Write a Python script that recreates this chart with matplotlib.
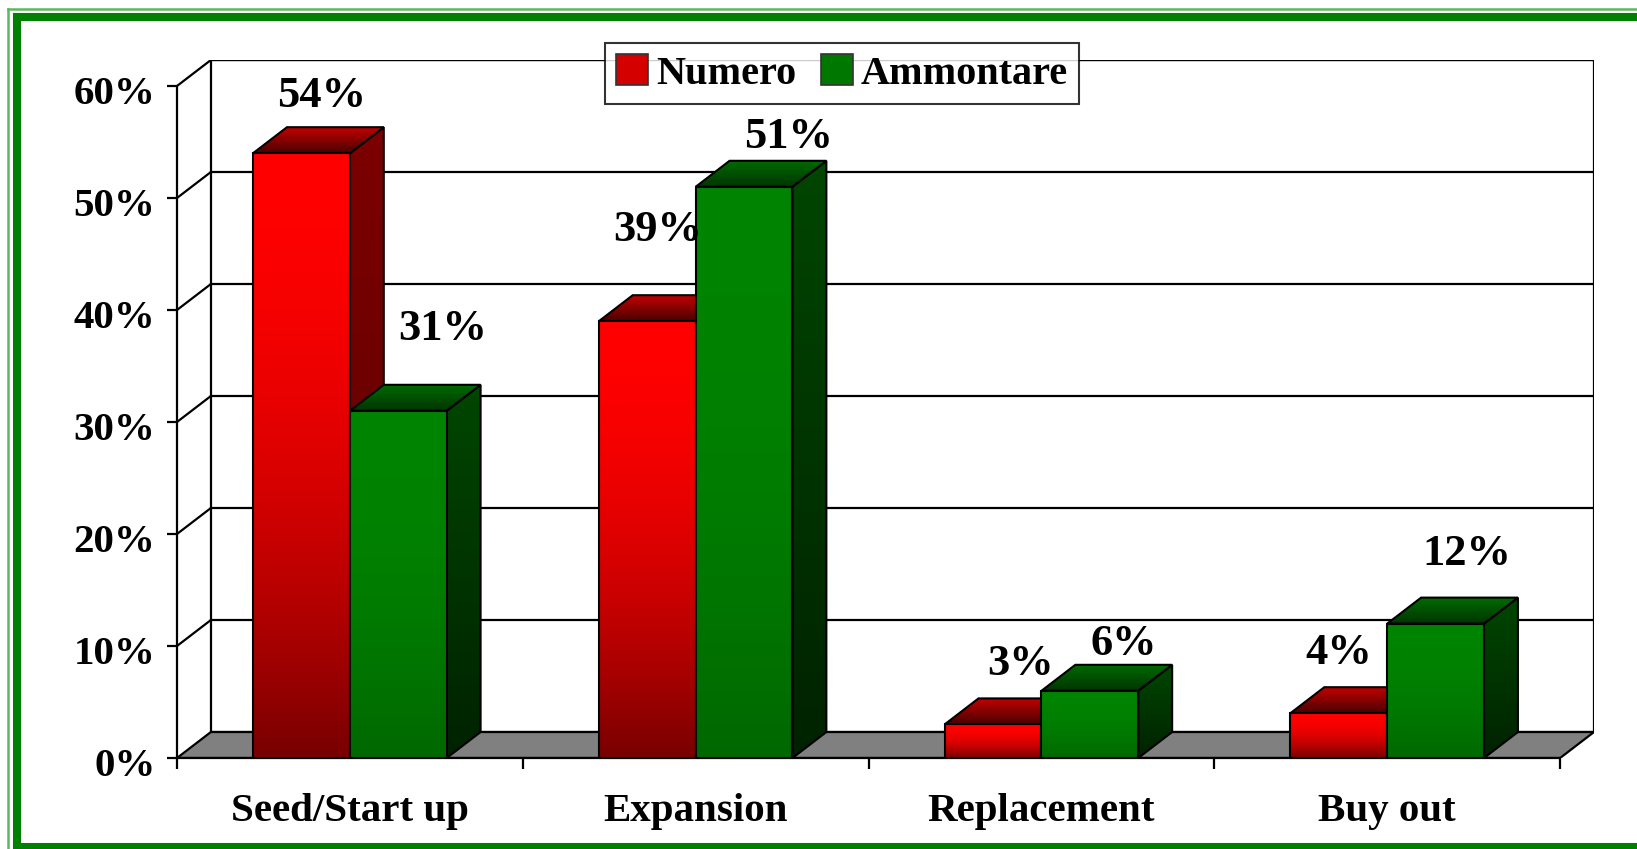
import numpy as np
import matplotlib
matplotlib.use("Agg")
import matplotlib.pyplot as plt
from matplotlib.patches import Polygon, Patch
from matplotlib.lines import Line2D
from matplotlib.colors import to_rgb
from matplotlib.transforms import ScaledTranslation

plt.rcParams["font.family"] = ["Liberation Serif", "DejaVu Serif"]
plt.rcParams["font.weight"] = "bold"

categories = ["Seed/Start up", "Expansion", "Replacement", "Buy out"]
numero = [54, 39, 3, 4]
ammontare = [31, 51, 6, 12]
series_names = ["Numero", "Ammontare"]
y_ticks = [0, 10, 20, 30, 40, 50, 60]

# hand placed label offsets in the original (x in categories, y in %)
label_dx = [[0.01, -0.02, 0.03, -0.05], [0.08, 0.08, 0.05, 0.04]]
label_dy = [[1.8, 4.8, 2.1, 2.1], [4.0, 1.1, 0.9, 2.9]]

DX, DY = 0.098, 2.32  # depth of the fake 3d box
BAR_W = 0.28
YMAX = 60

STYLES = [
    {"front": ("#ff0000", "#780000"), "side": ("#7c0000", "#5a0000"), "top": ("#c40000", "#4a0000")},
    {"front": ("#008400", "#006800"), "side": ("#004600", "#002200"), "top": ("#006a00", "#003400")},
]


def grad_face(ax, verts, c_top, c_bot, z, power=1.0):
    t = np.linspace(0, 1, 128) ** power
    a, b = np.array(to_rgb(c_top)), np.array(to_rgb(c_bot))
    img = (a[None, :] * (1 - t[:, None]) + b[None, :] * t[:, None])[:, None, :]
    xs = [v[0] for v in verts]
    ys = [v[1] for v in verts]
    im = ax.imshow(img, extent=(min(xs), max(xs), min(ys), max(ys)), origin="upper",
                   aspect="auto", interpolation="bilinear", zorder=z)
    clip = Polygon(verts, closed=True, transform=ax.transData)
    im.set_clip_path(clip)
    ax.add_patch(Polygon(verts, closed=True, fill=False, edgecolor="black", lw=1.5, zorder=z + 0.01))


def draw_bar(ax, x0, h, style, z):
    x1 = x0 + BAR_W
    grad_face(ax, [(x1, 0), (x1 + DX, DY), (x1 + DX, h + DY), (x1, h)], *style["side"], z)
    grad_face(ax, [(x0, h), (x1, h), (x1 + DX, h + DY), (x0 + DX, h + DY)], *style["top"], z + 0.02)
    grad_face(ax, [(x0, 0), (x1, 0), (x1, h), (x0, h)], *style["front"], z + 0.04, power=2.0)


fig = plt.figure(figsize=(16.37, 8.49), dpi=100)
ax = fig.add_axes([177 / 1637, 91 / 849, 1417 / 1637, 698 / 849])
ax.patch.set_visible(False)
n = len(categories)

# back wall, floor, side grid lines
ax.add_patch(Polygon([(DX, DY), (n + DX, DY), (n + DX, YMAX + DY), (DX, YMAX + DY)],
                     facecolor="white", edgecolor="black", lw=1.6, zorder=0.5))
ax.add_patch(Polygon([(0, 0), (n, 0), (n + DX, DY), (DX, DY)],
                     facecolor="#808080", edgecolor="black", lw=1.6, zorder=0.8))
for v in y_ticks[1:]:
    ax.plot([DX, n + DX], [v + DY, v + DY], color="black", lw=1.6, zorder=0.6)
    ax.plot([0, DX], [v, v + DY], color="black", lw=1.6, zorder=0.6)

for i in range(n):
    for s, vals in enumerate([numero, ammontare]):
        x0 = i + 0.5 - BAR_W + s * BAR_W
        draw_bar(ax, x0, vals[i], STYLES[s], 2 + i + s * 0.5)
        ax.text(x0 + BAR_W / 2 + DX / 2 + label_dx[s][i], vals[i] + DY + label_dy[s][i],
                f"{vals[i]}%", ha="center", va="baseline", fontsize=32, fontweight="bold", zorder=10)

ax.set_xlim(0, n + DX)
ax.set_ylim(0, YMAX + DY)
for sp in ["top", "right"]:
    ax.spines[sp].set_visible(False)
ax.spines["left"].set_bounds(0, YMAX)
ax.spines["bottom"].set_bounds(0, n)
for sp in ["left", "bottom"]:
    ax.spines[sp].set_linewidth(1.6)
    ax.spines[sp].set_zorder(1)

ax.set_yticks(y_ticks)
ax.set_yticklabels([f"{v}%" for v in y_ticks], fontsize=29.5, fontweight="bold")
ax.tick_params(axis="y", length=7.5, width=1.6, pad=8)
ax.set_xticks(np.arange(n) + 0.5)
ax.set_xticklabels(categories, fontsize=29.5, fontweight="bold")
ax.set_xticks(np.arange(n + 1), minor=True)
ax.tick_params(axis="x", which="major", length=0, pad=25)
ax.tick_params(axis="x", which="minor", length=8, width=1.6)

# y labels sit a little lower in the original
for lab in ax.get_yticklabels():
    lab.set_transform(lab.get_transform() + ScaledTranslation(0, -3 / 72, fig.dpi_scale_trans))

handles = [Patch(facecolor=c, edgecolor="#333333", lw=1.2) for c in ["#d40000", "#007800"]]
leg = fig.legend(handles, series_names, loc="center", bbox_to_anchor=(842 / 1637, 1 - 73.5 / 849),
                 ncol=2, frameon=True, fancybox=False, fontsize=29, handlelength=0.8, handleheight=0.8,
                 handletextpad=0.2, columnspacing=0.6, borderpad=0.28, borderaxespad=0)
leg.get_frame().set_edgecolor("black")
leg.get_frame().set_linewidth(1.5)

# green frame around the slide
W, H = 1637, 849


def fline(xs, ys, **kw):
    fig.add_artist(Line2D([x / W for x in xs], [1 - y / H for y in ys], transform=fig.transFigure, **kw))


fline([8, W + 5], [9, 9], color="#5cb85c", lw=1.8)
fline([8, 8], [9, H + 5], color="#5cb85c", lw=1.8)
fline([16.7, W + 5], [17, 17], color="#008000", lw=5.8)
fline([16.7, 16.7], [17, 847], color="#008000", lw=5.8)
fline([16.7, W + 5], [847, 847], color="#008000", lw=5.8)

fig.savefig("out.png", dpi=100, facecolor="white")
